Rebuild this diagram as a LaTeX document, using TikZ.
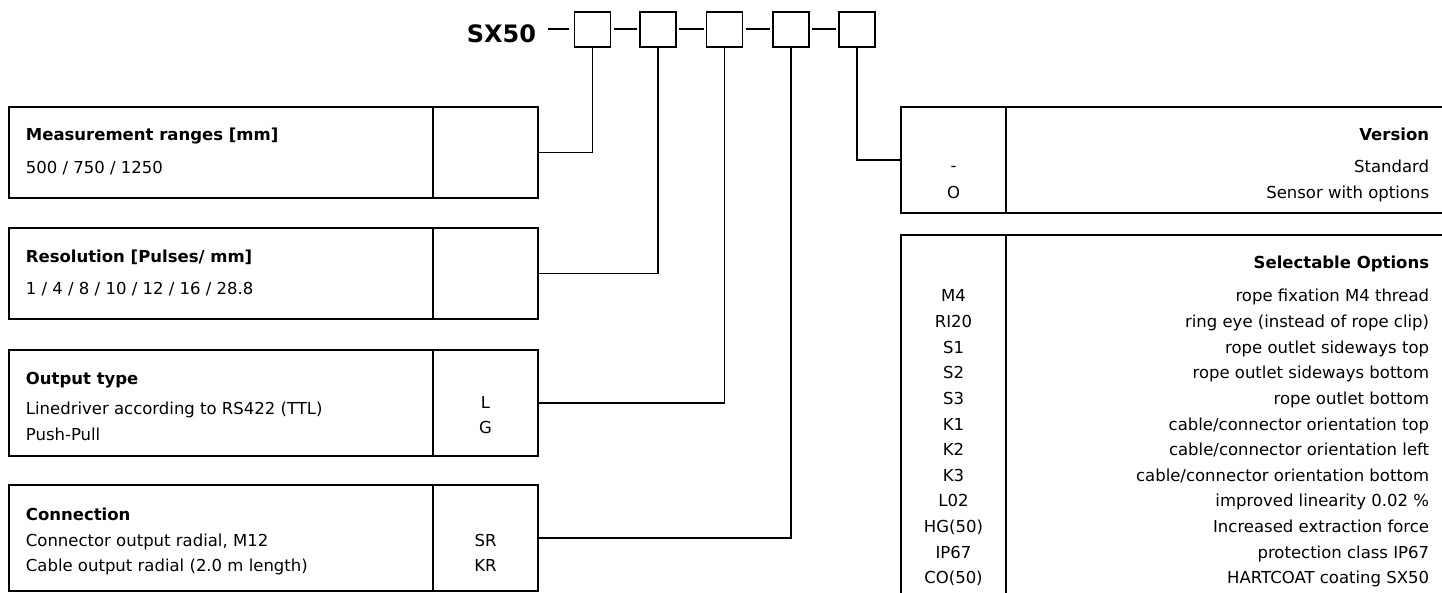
\documentclass[tikz,border=0pt]{standalone}
\usepackage{fontspec}
\setmainfont{DejaVu Sans}
\begin{document}
\begin{tikzpicture}[x=1pt,y=-1pt,line width=1.8pt,
  box/.style={draw, line width=1.8pt, inner sep=0pt, outer sep=0pt, anchor=north west},
  hbox/.style={draw, line width=1.8pt, inner sep=0pt, outer sep=0pt, minimum width=36pt, minimum height=35pt},
  ttl/.style={font=\bfseries\fontsize{16.5}{20}\selectfont, anchor=base west, inner sep=0pt},
  txt/.style={font=\fontsize{16.5}{20}\selectfont, anchor=base west, inner sep=0pt},
  rttl/.style={font=\bfseries\fontsize{16.5}{20}\selectfont, anchor=base east, inner sep=0pt},
  rtxt/.style={font=\fontsize{16.5}{20}\selectfont, anchor=base east, inner sep=0pt},
  code/.style={font=\fontsize{16.5}{20}\selectfont, anchor=base, inner sep=0pt},
  conn/.style={draw, line width=1.8pt}]
\useasboundingbox (0,0) rectangle (1442,593);
\clip (0,0) rectangle (1442,593);
% header
\node[font=\bfseries\fontsize{24}{29}\selectfont, anchor=base east, inner sep=0pt] (sx) at (537,42.7) {SX50};
\node[hbox] (h1) at (592.5,29.3) {};
\node[hbox] (h2) at (658,29.3) {};
\node[hbox] (h3) at (724.5,29.3) {};
\node[hbox] (h4) at (791,29.3) {};
\node[hbox] (h5) at (857,29.3) {};
\draw[conn] ([xshift=-27pt]h1.west) -- ([xshift=-6pt]h1.west);
\draw[conn] ([xshift=3pt]h1.east) -- ([xshift=-3pt]h2.west);
\draw[conn] ([xshift=3pt]h2.east) -- ([xshift=-3pt]h3.west);
\draw[conn] ([xshift=3pt]h3.east) -- ([xshift=-3pt]h4.west);
\draw[conn] ([xshift=3pt]h4.east) -- ([xshift=-3pt]h5.west);
% left boxes
\node[box, minimum width=424pt, minimum height=91pt] (r1) at (9,107) {};
\node[box, minimum width=105pt, minimum height=91pt] (r1c) at (433,107) {};
\node[ttl] (r1a) at (25,141) {Measurement ranges [mm]};
\node[txt] (r1b) at (25,174) {500 / 750 / 1250};

\node[box, minimum width=424pt, minimum height=91pt] (r2) at (9,228) {};
\node[box, minimum width=105pt, minimum height=91pt] (r2c) at (433,228) {};
\node[ttl] (r2a) at (25,263) {Resolution [Pulses/ mm]};
\node[txt] (r2b) at (25,295) {1 / 4 / 8 / 10 / 12 / 16 / 28.8};

\node[box, minimum width=424pt, minimum height=106pt] (r3) at (9,350) {};
\node[box, minimum width=105pt, minimum height=106pt] (r3c) at (433,350) {};
\node[ttl] (r3a) at (25,384) {Output type};
\node[txt] (r3b) at (25,414) {Linedriver according to RS422 (TTL)};
\node[txt] (r3d) at (25,440) {Push-Pull};
\node[code] (r3e) at (485.5,408) {L};
\node[code] (r3f) at (485.5,433) {G};

\node[box, minimum width=424pt, minimum height=106pt] (r4) at (9,485) {};
\node[box, minimum width=105pt, minimum height=106pt] (r4c) at (433,485) {};
\node[ttl] (r4a) at (25,520) {Connection};
\node[txt] (r4b) at (25,546) {Connector output radial, M12};
\node[txt] (r4d) at (25,571) {Cable output radial (2.0 m length)};
\node[code] (r4e) at (485.5,546) {SR};
\node[code] (r4f) at (485.5,571) {KR};

% right boxes
\node[box, minimum width=105pt, minimum height=106pt] (vc) at (901,107) {};
\node[box, minimum width=500pt, minimum height=106pt] (vt) at (1006,107) {};
\node[rttl] (va) at (1430,141) {Version};
\node[rtxt] (vb) at (1430,173) {Standard};
\node[rtxt] (vd) at (1430,199) {Sensor with options};
\node[code] (ve) at (953.5,172) {-};
\node[code] (vf) at (953.5,199) {O};

\node[box, minimum width=105pt, minimum height=420pt] (oc) at (901,235) {};
\node[box, minimum width=500pt, minimum height=420pt] (ot) at (1006,235) {};
\node[rttl] (oa) at (1430,269) {Selectable Options};
\foreach \c/\t [count=\i from 0] in {M4/rope fixation M4 thread, RI20/ring eye (instead of rope clip), S1/rope outlet sideways top, S2/rope outlet sideways bottom, S3/rope outlet bottom, K1/cable\slash connector orientation top, K2/cable\slash connector orientation left, K3/cable\slash connector orientation bottom, L02/improved linearity 0.02 \%, HG(50)/Increased extraction force, IP67/protection class IP67, CO(50)/HARTCOAT coating SX50}{
  \node[code] (oc\i) at (953.5,302+25.6*\i) {\c};
  \node[rtxt] (ot\i) at (1430,302+25.6*\i) {\t};
}
% connectors
\draw[conn] (r1c.east) -| (h1.south);
\draw[conn] (r2c.east) -| (h2.south);
\draw[conn] (r3c.east) -| (h3.south);
\draw[conn] (r4c.east) -| (h4.south);
\draw[conn] (vc.west) -| (h5.south);
\end{tikzpicture}
\end{document}
